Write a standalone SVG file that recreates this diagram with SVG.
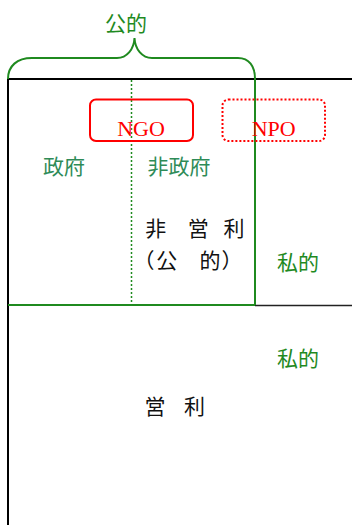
<svg xmlns="http://www.w3.org/2000/svg" width="352" height="525" viewBox="0 0 352 525">
<style>
.cjk{font-family:"Noto Sans CJK JP","Noto Sans",sans-serif;font-size:21px;text-anchor:middle}
.blk{fill:#111}
.g1{fill:#2e8b57}
.g2{fill:#1f8a1f}
.lat{font-family:"Liberation Serif",serif;font-size:22px;fill:#ff0000;text-anchor:middle}
</style>
<rect width="352" height="525" fill="#fff"/>
<g id="connectors" fill="none">
  <path d="M8,79 V525" stroke="#000" stroke-width="2"/>
  <path d="M8,79 H352" stroke="#000" stroke-width="2"/>
  <path d="M255,305.5 H352" stroke="#222" stroke-width="1.5"/>
  <path d="M131.5,80 V304" stroke="#1f8a1f" stroke-width="1.5" stroke-dasharray="2,2"/>
  <path d="M8,305 H255" stroke="#1f8a1f" stroke-width="2"/>
  <path d="M8,79 C8,66 17,58 32,58 L117,58 C127,58 134,49 134.5,38 C135,49 142,58 152,58 L238,58 C249,58 255,66 255,79 L255,305" stroke="#1f8a1f" stroke-width="2"/>
</g>
<g id="ngo">
  <rect x="90" y="99.5" width="103" height="41.5" rx="6" fill="none" stroke="#ff0000" stroke-width="2"/>
  <text class="lat" x="141" y="135.5">NGO</text>
</g>
<g id="npo">
  <rect x="222.5" y="99.5" width="102.5" height="41.5" rx="6" fill="none" stroke="#ff0000" stroke-width="2" stroke-dasharray="2,2"/>
  <text class="lat" x="273.7" y="135.5">NPO</text>
</g>
<g id="kouteki"><text class="cjk g2" x="126" y="31">公的</text></g>
<g id="seifu"><text class="cjk g1" x="64" y="174">政府</text></g>
<g id="hiseifu"><text class="cjk g1" x="179" y="174">非政府</text></g>
<g id="hieiri">
  <text class="cjk blk" x="155.7 198.3 234" y="236">非営利</text>
  <text class="cjk blk" x="144 166.7 210 232" y="268">（公的）</text>
</g>
<g id="shiteki1"><text class="cjk g2" x="298" y="270">私的</text></g>
<g id="shiteki2"><text class="cjk g2" x="298" y="366">私的</text></g>
<g id="eiri"><text class="cjk blk" x="155 194.5" y="414">営利</text></g>
</svg>
